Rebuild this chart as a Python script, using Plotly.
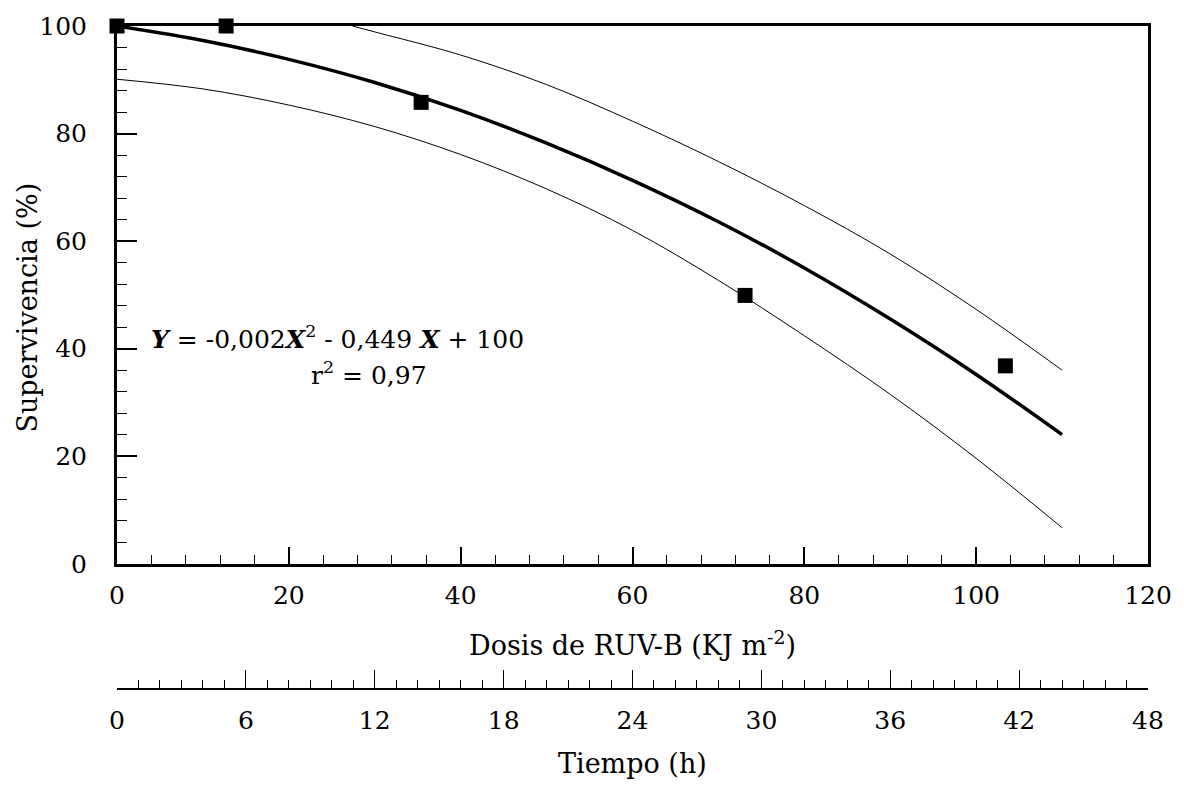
import plotly.graph_objects as go

# ---- data ----
dose_obs = [0, 12.7, 35.4, 73.1, 103.4]
surv_obs = [100, 100, 85.8, 49.9, 36.8]

fit_x = [0, 10, 20, 30, 40, 50, 60, 70, 80, 90, 100, 110]
fit_y = [100, 97.3, 93.8, 89.5, 84.3, 78.2, 71.3, 63.6, 55.0, 45.5, 35.2, 24.0]

upper_x = [27.4, 30, 40, 50, 60, 70, 80, 90, 100, 110]
upper_y = [100, 98.9, 94.6, 89.1, 82.3, 74.8, 66.6, 57.6, 47.3, 36.0]

lower_x = [0, 10, 20, 30, 40, 50, 60, 70, 80, 90, 100, 110]
lower_y = [90.1, 88.3, 85.3, 81.3, 76.1, 69.7, 62.0, 52.7, 42.4, 31.5, 19.6, 6.7]

dose_ticks = [0, 20, 40, 60, 80, 100, 120]
surv_ticks = [0, 20, 40, 60, 80, 100]
time_ticks = [0, 6, 12, 18, 24, 30, 36, 42, 48]

FONT = "DejaVu Serif"
FS_TICK = 25
FS_TITLE = 27
FS_EQ = 25

W, H = 1184, 791
L, R, T, B = 117, 33, 22, 103
PW, PH = W - L - R, H - T - B


def px(x):
    return (x - L) / PW


def py(y):
    return (H - B - y) / PH


fig = go.Figure()
fig.add_trace(go.Scatter(x=upper_x, y=upper_y, mode="lines", line=dict(color="black", width=1, shape="spline"),
                         showlegend=False, hoverinfo="skip"))
fig.add_trace(go.Scatter(x=lower_x, y=lower_y, mode="lines", line=dict(color="black", width=1, shape="spline"),
                         showlegend=False, hoverinfo="skip"))
fig.add_trace(go.Scatter(x=fit_x, y=fit_y, mode="lines", line=dict(color="black", width=3.5, shape="spline"),
                         showlegend=False))
fig.add_trace(go.Scatter(x=dose_obs, y=surv_obs, mode="markers",
                         marker=dict(symbol="square", size=15, color="black"),
                         cliponaxis=False, showlegend=False))
# invisible trace to establish the time axis
fig.add_trace(go.Scatter(x=[0, 48], y=[0, 0], xaxis="x2", yaxis="y2", mode="markers",
                         marker=dict(opacity=0), showlegend=False, hoverinfo="skip"))

main_bottom = py(563)

fig.update_layout(
    width=W, height=H,
    margin=dict(l=L, r=R, t=T, b=B),
    paper_bgcolor="white", plot_bgcolor="white",
    font=dict(family=FONT, size=FS_TICK, color="black"),
    xaxis=dict(domain=[0, 1], range=[0, 120], anchor="y", tickvals=dose_ticks,
               showline=True, linewidth=3, linecolor="black", mirror=True,
               ticks="inside", ticklen=17, tickwidth=1.5, tickcolor="black",
               minor=dict(ticks="inside", ticklen=9, dtick=4, tickwidth=1.2, tickcolor="black"),
               showgrid=False, zeroline=False, ticklabelstandoff=7),
    yaxis=dict(domain=[main_bottom, 1], range=[0, 100], anchor="x", tickvals=surv_ticks,
               showline=True, linewidth=3, linecolor="black", mirror=True,
               ticks="inside", ticklen=20, tickwidth=1.5, tickcolor="black",
               minor=dict(ticks="inside", ticklen=10, dtick=4, tickwidth=1.2, tickcolor="black"),
               showgrid=False, zeroline=False, ticklabelstandoff=22),
    xaxis2=dict(domain=[0, 1], range=[0, 48], anchor="y2", tickvals=time_ticks,
                showline=True, linewidth=1.5, linecolor="black",
                ticks="inside", ticklen=18, tickwidth=1.2, tickcolor="black",
                minor=dict(ticks="inside", ticklen=8, dtick=1, tickwidth=1, tickcolor="black"),
                showgrid=False, zeroline=False, ticklabelstandoff=9),
    yaxis2=dict(domain=[0, 0.02], visible=False, range=[0, 1]),
)

ann = [
    dict(text="Dosis de RUV-B (KJ m<sup>-2</sup>)", x=px(634), y=py(643), size=FS_TITLE),
    dict(text="Tiempo (h)", x=px(634), y=py(764), size=FS_TITLE),
    dict(text="Supervivencia (%)", x=px(27), y=py(305), textangle=-90, size=FS_TITLE),
    dict(text="<b><i>Y</i></b> = -0,002<b><i>X</i></b><sup>2</sup> - 0,449 <b><i>X</i></b> + 100",
         x=px(338), y=py(335), size=FS_EQ),
    dict(text="r<sup>2</sup> = 0,97", x=px(370), y=py(372), size=FS_EQ),
]
for a in ann:
    size = a.pop("size")
    fig.add_annotation(xref="paper", yref="paper", showarrow=False, xanchor="center", yanchor="middle",
                       font=dict(family=FONT, size=size, color="black"), **a)

fig.write_html("out.html")
